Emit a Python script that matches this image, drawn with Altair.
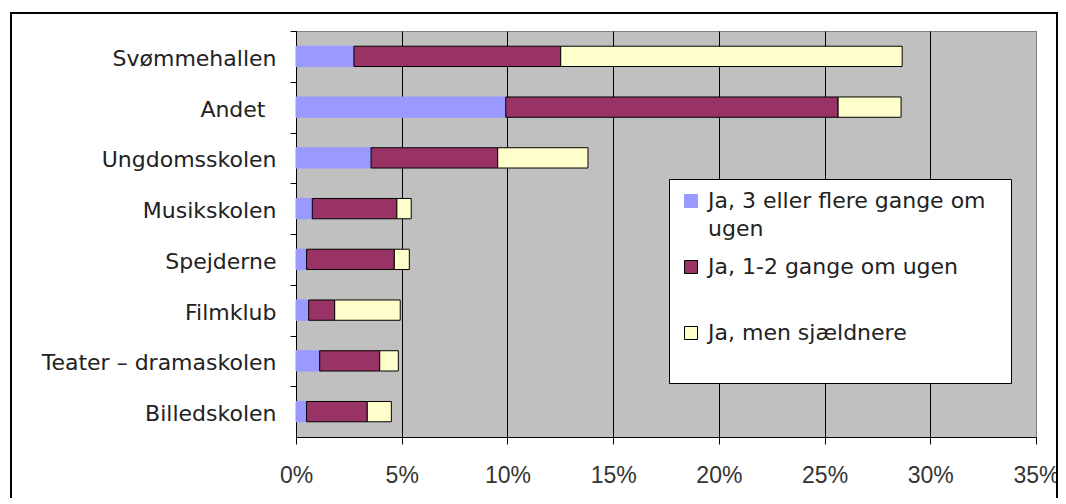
import altair as alt
import pandas as pd

categories = ["Svømmehallen", "Andet\u2002\u200b", "Ungdomsskolen", "Musikskolen",
              "Spejderne", "Filmklub", "Teater – dramaskolen", "Billedskolen"]
series = ["Ja, 3 eller flere gange om ugen", "Ja, 1-2 gange om ugen", "Ja, men sjældnere"]
often = [2.74, 9.92, 3.55, 0.77, 0.50, 0.60, 1.12, 0.50]
weekly = [9.78, 15.72, 5.99, 4.00, 4.15, 1.23, 2.84, 2.87]
rarely = [16.15, 2.98, 4.27, 0.68, 0.71, 3.10, 0.88, 1.14]
x_ticks = [0, 5, 10, 15, 20, 25, 30, 35]
colors = ["#9999FF", "#993366", "#FFFFCC"]
strokes = ["#9999FF", "#000000", "#000000"]

rows = []
for i, cat in enumerate(categories):
    for j, vals in enumerate([often, weekly, rarely]):
        rows.append({"category": cat, "series": series[j], "order": j, "value": vals[i]})
df = pd.DataFrame(rows)

step = 406 / 8.0

legend_labels = (
    "datum.label == 'Ja, 3 eller flere gange om ugen' ? "
    "['Ja, 3 eller flere gange om\u00a0\u00a0\u200b', 'ugen'] : [datum.label, '\u200b']"
)

bars = alt.Chart(df).mark_bar(strokeWidth=1).encode(
    x=alt.X("value:Q", stack="zero",
            scale=alt.Scale(domain=[0, 35], nice=False, zero=True),
            axis=alt.Axis(values=x_ticks, labelExpr="datum.value + '%'", title=None,
                          grid=True,
                          gridColor={"condition": {"test": "datum.value == 35", "value": "#808080"},
                                     "value": "black"},
                          gridWidth=1, gridOpacity=1,
                          domainColor="black", domainWidth=1, tickColor="black", tickSize=7,
                          labelFont="Liberation Sans", labelFontSize=23, labelColor="#333333",
                          labelPadding=20, labelFlush=False, labelOverlap=False)),
    y=alt.Y("category:N", sort=categories,
            scale=alt.Scale(paddingInner=0.6, paddingOuter=0.3),
            axis=alt.Axis(title=None, tickOffset=-step / 2, labelOffset=step / 2 + 2.0,
                          domainColor="black", domainWidth=1, tickColor="black", tickSize=6,
                          labelFont="DejaVu Sans", labelFontSize=22, labelColor="#222222",
                          labelPadding=14, labelLimit=300)),
    color=alt.Color("series:N", scale=alt.Scale(domain=series, range=colors),
                    legend=alt.Legend(title=None, orient="none", legendX=373, legendY=148,
                                      direction="vertical", fillColor="white",
                                      strokeColor="black", padding=11,
                                      symbolType="square", symbolSize=169,
                                      symbolStrokeColor="black", symbolStrokeWidth=1,
                                      symbolOpacity=1,
                                      labelFont="DejaVu Sans", labelFontSize=22,
                                      labelColor="#222222", labelLimit=400, labelOffset=6,
                                      rowPadding=16,
                                      labelExpr=legend_labels)),
    stroke=alt.Stroke("series:N", scale=alt.Scale(domain=series, range=strokes), legend=None),
    order=alt.Order("order:Q"),
)

frame = alt.Chart(pd.DataFrame({"f": [0]})).mark_rect(
    filled=False, stroke="black", strokeWidth=2, clip=False
).encode(x=alt.value(-285), x2=alt.value(761), y=alt.value(-18), y2=alt.value(500))

chart = alt.layer(frame, bars).properties(
    width=740, height=406,
    autosize=alt.AutoSizeParams(type="none"),
    padding={"left": 288, "top": 23, "right": 22, "bottom": 61},
    background="white",
).configure(
    style={"guide-label": {"lineHeight": 28}}
).configure_view(
    fill="#C0C0C0", stroke="#808080", strokeWidth=1
)

chart.save("out.html", embed_options={"renderer": "svg", "actions": False})
